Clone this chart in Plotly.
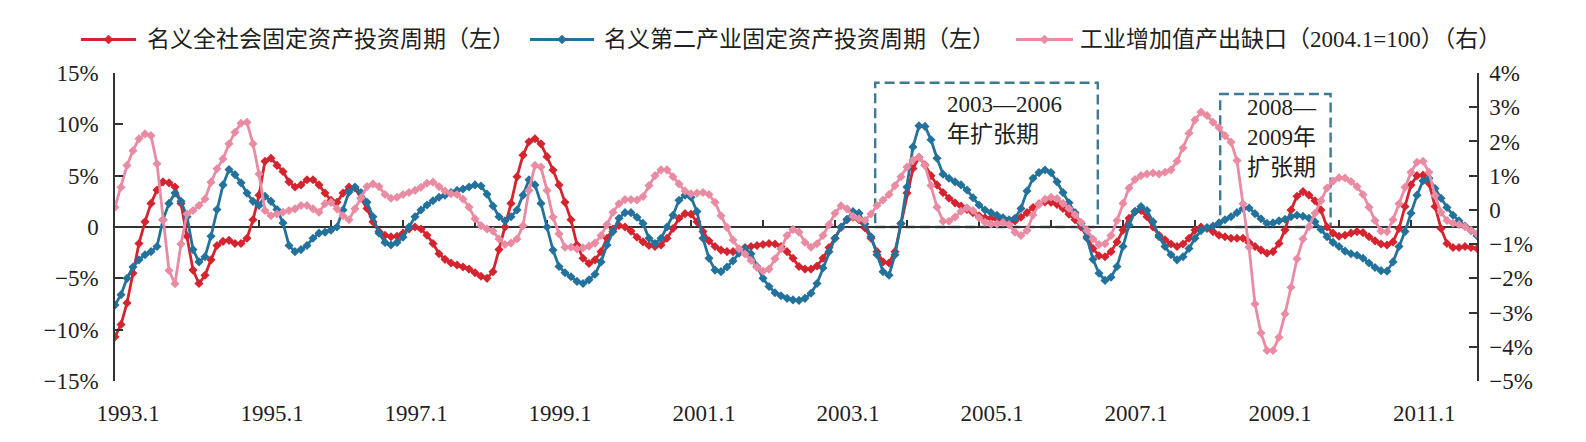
import plotly.graph_objects as go

# ---------------- data ----------------
months = [f"{y}.{m}" for y in range(1993, 2012) for m in range(1, 13)]

# 名义全社会固定资产投资周期（左）, %
total_inv = [
    -10.7, -9.5, -7.4, -4.5, -1.6, 0.5, 2.3, 3.6, 4.4, 4.3, 3.9, 2.3,
    -0.9, -4.2, -5.5, -4.7, -3.2, -1.8, -1.4, -1.3, -1.6, -1.6, -1.1, 0.7,
    3.1, 6.4, 6.7, 6.0, 5.4, 4.4, 3.9, 4.1, 4.6, 4.6, 4.1, 3.3,
    2.6, 2.4, 3.3, 3.9, 3.8, 2.8, 1.8, 0.5, -0.45, -0.8, -0.95, -0.9,
    -0.6, -0.2, 0.0, -0.2, -0.8, -1.6, -2.6, -3.15, -3.5, -3.7, -3.9, -4.1,
    -4.45, -4.8, -5.0, -4.35, -2.2, 0.0, 2.3, 4.9, 7.0, 8.3, 8.6, 8.1,
    6.85, 5.55, 4.1, 2.4, 0.7, -1.75, -3.05, -3.55, -3.2, -2.4, -1.1, -0.2,
    0.15, 0.0, -0.4, -1.0, -1.45, -1.8, -1.9, -1.75, -1.1, -0.15, 0.85, 1.3,
    1.25, 0.5, -0.45, -1.35, -1.9, -2.25, -2.4, -2.4, -2.2, -2.0, -1.9, -1.8,
    -1.7, -1.6, -1.65, -1.9, -2.4, -3.05, -3.85, -4.1, -4.1, -3.8, -3.05, -2.0,
    -1.1, -0.05, 0.7, 0.95, 0.7, -0.1, -1.1, -2.4, -3.4, -3.5, -2.4, 0.35,
    3.3, 5.7, 6.8, 6.05, 5.0, 4.1, 3.35, 2.8, 2.35, 2.05, 1.7, 1.4,
    1.1, 0.9, 0.85, 0.75, 0.6, 0.5, 0.6, 0.95, 1.4, 1.9, 2.25, 2.45,
    2.4, 2.2, 1.8, 1.25, 0.7, 0.0, -0.95, -2.1, -2.8, -2.9, -2.4, -1.45,
    -0.3, 0.85, 1.5, 1.6, 1.0, 0.0, -0.8, -1.25, -1.65, -1.9, -1.65, -1.1,
    -0.3, 0.0, -0.15, -0.45, -0.8, -0.95, -1.1, -1.1, -1.1, -1.5, -1.9, -2.25,
    -2.55, -2.4, -1.6, -0.3, 1.65, 3.0, 3.45, 3.1, 2.55, 1.65, 0.0, -0.6,
    -0.9, -0.8, -0.6, -0.45, -0.55, -0.95, -1.35, -1.65, -1.75, -1.45, -0.15, 2.0,
    4.1, 5.0, 5.05, 4.25, 2.0, -0.15, -1.6, -2.0, -2.0, -1.9, -2.0, -2.1,
]

# 名义第二产业固定资产投资周期（左）, %
secondary_inv = [
    -7.6, -6.6, -5.0, -3.9, -3.2, -2.7, -2.4, -1.9, 0.7, 2.3, 3.3, 2.5,
    1.0, -2.2, -3.4, -2.9, -0.9, 1.7, 4.1, 5.6, 5.1, 4.3, 3.3, 2.5,
    2.1, 3.0, 2.5, 1.7, 0.4, -1.8, -2.4, -2.2, -1.8, -1.1, -0.6, -0.5,
    -0.3, 0.0, 1.65, 3.4, 3.9, 3.35, 2.4, 1.0, -0.6, -1.5, -1.75, -1.5,
    -1.0, 0.0, 1.0, 1.65, 2.15, 2.55, 2.9, 3.1, 3.35, 3.55, 3.7, 3.9,
    4.1, 4.0, 3.2, 2.05, 1.0, 0.6, 1.0, 1.65, 3.1, 4.6, 4.1, 2.3,
    0.0, -2.25, -3.85, -4.45, -4.85, -5.3, -5.5, -5.15, -4.6, -3.4, -1.75, -0.45,
    0.85, 1.4, 1.4, 0.95, 0.35, -1.1, -1.6, -1.1, 0.0, 1.15, 2.6, 3.1,
    2.9, 1.5, -1.1, -3.05, -4.2, -4.35, -3.9, -3.3, -2.55, -2.1, -2.6, -3.85,
    -5.0, -5.8, -6.4, -6.7, -6.95, -7.1, -7.15, -6.95, -6.45, -5.5, -4.0, -2.4,
    -1.1, 0.0, 0.75, 1.5, 1.35, 0.3, -0.95, -2.7, -4.35, -4.7, -2.7, 0.35,
    3.9, 7.8, 9.85, 9.8, 8.5, 6.7, 5.15, 4.75, 4.4, 4.1, 3.6, 2.85,
    2.15, 1.65, 1.4, 1.15, 0.9, 0.7, 0.85, 1.8, 3.5, 4.75, 5.3, 5.55,
    5.3, 4.4, 3.35, 2.35, 1.4, 0.35, -1.1, -3.15, -4.5, -5.2, -4.9, -3.85,
    -1.9, 0.2, 1.5, 2.0, 1.6, 0.5, -0.95, -1.9, -2.7, -3.2, -2.9, -2.1,
    -1.1, -0.35, -0.05, 0.1, 0.4, 0.7, 1.0, 1.4, 1.8, 1.85, 1.3, 0.8,
    0.35, 0.4, 0.6, 0.75, 1.0, 1.15, 1.05, 0.85, 0.5, -0.25, -0.95, -1.5,
    -1.9, -2.35, -2.6, -2.75, -3.05, -3.5, -3.95, -4.25, -4.3, -3.4, -1.9, -0.45,
    1.35, 3.1, 4.5, 4.75, 3.75, 2.8, 1.9, 1.15, 0.6, 0.1, -0.35, -0.85,
]

# 工业增加值产出缺口（2004.1=100）（右）, %
output_gap = [
    0.08, 0.66, 1.3, 1.73, 2.08, 2.22, 2.17, 1.35, -0.3, -1.77, -2.16, -1.0,
    -0.12, -0.02, 0.13, 0.32, 0.81, 1.2, 1.49, 1.93, 2.27, 2.53, 2.56, 1.93,
    1.05, -0.02, -0.17, -0.12, -0.07, -0.02, 0.03, 0.13, 0.13, 0.03, -0.07, 0.18,
    0.22, 0.03, -0.17, -0.29, 0.03, 0.35, 0.68, 0.76, 0.68, 0.45, 0.34, 0.37,
    0.45, 0.51, 0.57, 0.66, 0.78, 0.81, 0.68, 0.55, 0.47, 0.45, 0.32, 0.08,
    -0.26, -0.46, -0.56, -0.62, -0.85, -1.01, -0.97, -0.85, -0.46, 0.57, 1.3, 1.25,
    0.57, -0.21, -0.7, -1.09, -1.09, -1.14, -1.11, -1.06, -0.97, -0.75, -0.43, -0.07,
    0.18, 0.3, 0.3, 0.29, 0.39, 0.71, 1.0, 1.17, 1.17, 0.97, 0.76, 0.55,
    0.47, 0.49, 0.51, 0.45, 0.22, -0.17, -0.51, -0.88, -1.14, -1.29, -1.48, -1.68,
    -1.79, -1.73, -1.43, -1.14, -0.75, -0.57, -0.65, -0.95, -1.09, -0.99, -0.75, -0.43,
    -0.1, 0.12, 0.03, -0.19, -0.26, -0.31, -0.12, 0.13, 0.29, 0.45, 0.71, 0.97,
    1.25, 1.46, 1.54, 1.3, 0.71, 0.08, -0.33, -0.33, -0.21, -0.04, 0.06, -0.02,
    -0.23, -0.36, -0.41, -0.41, -0.37, -0.43, -0.65, -0.75, -0.6, -0.15, 0.16, 0.31,
    0.37, 0.33, 0.19, 0.04, -0.14, -0.36, -0.6, -0.85, -1.01, -0.99, -0.75, -0.31,
    0.19, 0.64, 0.89, 1.0, 1.05, 1.08, 1.05, 1.1, 1.17, 1.42, 1.81, 2.24,
    2.63, 2.86, 2.76, 2.56, 2.4, 2.17, 1.98, 1.44, 0.18, -1.09, -2.75, -3.6,
    -4.11, -4.11, -3.72, -3.04, -2.26, -1.43, -0.85, -0.49, -0.1, 0.27, 0.64, 0.84,
    0.94, 0.93, 0.83, 0.68, 0.45, 0.08, -0.31, -0.62, -0.64, -0.29, 0.18, 0.66,
    1.1, 1.39, 1.42, 1.1, 0.42, -0.07, -0.31, -0.39, -0.43, -0.49, -0.6, -0.7,
]

x_labels = ["1993.1", "1995.1", "1997.1", "1999.1", "2001.1",
            "2003.1", "2005.1", "2007.1", "2009.1", "2011.1"]
left_ticks = [-15, -10, -5, 0, 5, 10, 15]
right_ticks = [-5, -4, -3, -2, -1, 0, 1, 2, 3, 4]

names = ["名义全社会固定资产投资周期（左）",
         "名义第二产业固定资产投资周期（左）",
         "工业增加值产出缺口（2004.1=100）（右）"]

# ---------------- style / layout geometry ----------------
RED = "#D3242F"
BLUE = "#23729C"
PINK = "#E98BA3"
BOXC = "#3D7B95"
AX = "#333333"
TXT = "#231F20"
FONT = "Liberation Serif, Noto Sans CJK SC, serif"

W, H = 1586, 442
ML, MR, MT, MB = 115, 109, 73, 61
PW, PH = W - ML - MR, H - MT - MB

x = list(range(len(months)))
last = len(months) - 1


def pct(v):
    if v == 0:
        return "0"
    return ("−" if v < 0 else "") + f"{abs(v)}%"


def px_x(p):  # pixel -> paper x
    return (p - ML) / PW


def px_y(p):  # pixel -> paper y
    return (H - MB - p) / PH


label_pos = [months.index(s) + 2.2 for s in x_labels]
colors = [RED, BLUE, PINK]

fig = go.Figure()
for ys, nm, col, ax in [(total_inv, names[0], RED, "y"),
                        (secondary_inv, names[1], BLUE, "y"),
                        (output_gap, names[2], PINK, "y2")]:
    fig.add_trace(go.Scatter(
        x=x, y=ys, name=nm, yaxis=ax, mode="lines+markers",
        line=dict(color=col, width=2.8),
        marker=dict(symbol="diamond", size=7, color=col),
        showlegend=False,
    ))

# carrier trace for the zero-crossing category axis
fig.add_trace(go.Scatter(x=[], y=[], xaxis="x2", yaxis="y",
                         showlegend=False, hoverinfo="skip"))

# dashed expansion-period boxes (in category-index / left-axis units)
boxes = [(126.7, 163.8, 14.05), (184.2, 202.6, 12.95)]
for x0, x1, top in boxes:
    fig.add_shape(type="rect", xref="x", yref="y", x0=x0, x1=x1, y0=0, y1=top,
                  line=dict(color=BOXC, width=2.4, dash="10px,5px"),
                  fillcolor="rgba(0,0,0,0)", layer="below")

fig.add_annotation(x=138.3, y=10.5, xref="x", yref="y", xanchor="left",
                   yanchor="middle", align="left", showarrow=False,
                   text="2003—2006<br>年扩张期",
                   font=dict(family=FONT, size=23, color=TXT))
fig.add_annotation(x=188.3, y=8.67, xref="x", yref="y", xanchor="left",
                   yanchor="middle", align="left", showarrow=False,
                   text="2008—<br>2009年<br>扩张期",
                   font=dict(family=FONT, size=23, color=TXT))

# legend drawn above the plot: (sample start px, sample end px, text start px)
legend_slots = [(81, 136, 145), (530, 594, 602), (1016, 1073, 1078)]
LEG_Y = 39.5
ly = px_y(LEG_Y)
for (s0, s1, t0), nm, col in zip(legend_slots, names, colors):
    fig.add_shape(type="line", xref="paper", yref="paper",
                  x0=px_x(s0), x1=px_x(s1), y0=ly, y1=ly,
                  line=dict(color=col, width=3))
    cx = (s0 + s1) / 2
    d = 4.5
    path = (f"M {px_x(cx - d)},{ly} L {px_x(cx)},{px_y(LEG_Y - d)} "
            f"L {px_x(cx + d)},{ly} L {px_x(cx)},{px_y(LEG_Y + d)} Z")
    fig.add_shape(type="path", xref="paper", yref="paper", path=path,
                  fillcolor=col, line=dict(color=col, width=0.5))
    fig.add_annotation(x=px_x(t0), y=ly, xref="paper", yref="paper",
                       xanchor="left", yanchor="middle", showarrow=False,
                       text=nm, font=dict(family=FONT, size=23, color=TXT))

fig.update_layout(
    width=W, height=H,
    margin=dict(l=ML, r=MR, t=MT, b=MB),
    paper_bgcolor="white", plot_bgcolor="white",
    font=dict(family=FONT, size=22, color=TXT),
    showlegend=False,
    xaxis=dict(range=[0, last], tickvals=label_pos, ticktext=x_labels,
               ticks="", showline=False, showgrid=False, zeroline=False,
               ticklabelstandoff=16, tickfont=dict(size=23, color=TXT)),
    xaxis2=dict(overlaying="x", anchor="free", position=0.5, side="bottom",
                range=[0, last], tickvals=list(range(0, len(months), 12)),
                ticks="inside", ticklen=6, tickwidth=1.5, tickcolor=AX,
                showticklabels=False, showline=True, linecolor=AX,
                linewidth=1.5, showgrid=False, zeroline=False,
                layer="below traces"),
    yaxis=dict(range=[-15, 15], tickvals=left_ticks,
               ticktext=[pct(v) for v in left_ticks],
               ticks="inside", ticklen=8, tickwidth=1.5, tickcolor=AX,
               showline=True, linecolor=AX, linewidth=1.5,
               showgrid=False, zeroline=False, ticklabelstandoff=10,
               tickfont=dict(size=23, color=TXT)),
    yaxis2=dict(range=[-5, 4], overlaying="y", side="right",
                tickvals=right_ticks, ticktext=[pct(v) for v in right_ticks],
                ticks="inside", ticklen=8, tickwidth=1.5, tickcolor=AX,
                showline=True, linecolor=AX, linewidth=1.5,
                showgrid=False, zeroline=False, ticklabelstandoff=6,
                tickfont=dict(size=23, color=TXT)),
)

fig.write_html("out.html")
